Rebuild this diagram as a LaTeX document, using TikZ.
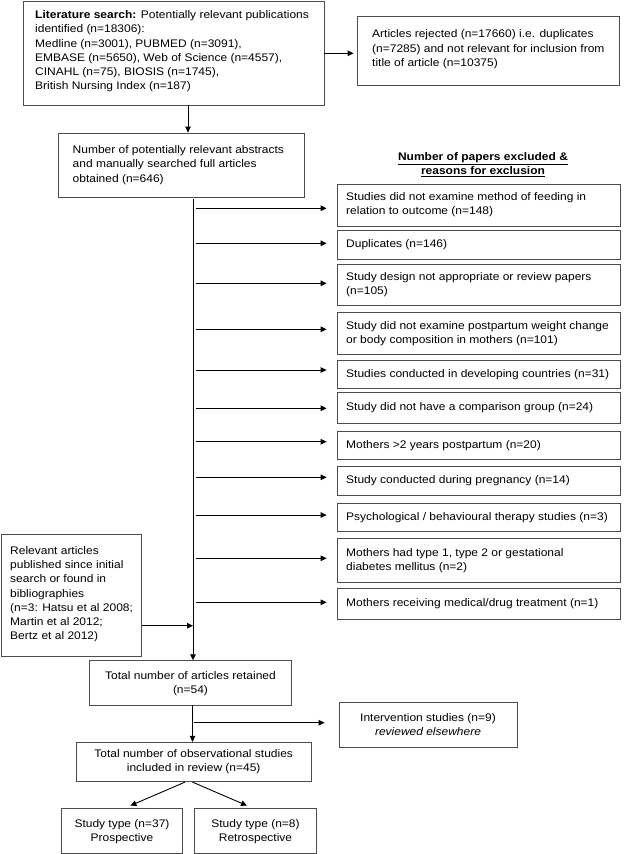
\documentclass[tikz,border=0pt]{standalone}
\usepackage{fontspec}
\setmainfont[FakeStretch=1.09]{Liberation Sans}
\usetikzlibrary{arrows.meta,calc}
\begin{document}
\begin{tikzpicture}[x=1pt,y=-1pt,
  box/.style={draw=black!70, line width=0.8pt, inner sep=0pt},
  txt/.style={font=\fontsize{11}{14.2}\selectfont, align=left, inner sep=0pt, anchor=west},
  ctxt/.style={font=\fontsize{11}{14.2}\selectfont, align=center, inner sep=0pt},
  arr/.style={line width=0.9pt, -{Triangle[length=6pt,width=5.5pt]}}]
\useasboundingbox (0,0) rectangle (625,854);
% top
\node[box, minimum width=301pt, minimum height=104pt] (lit) at (173.5,53) {};
\node[txt] (litt) at (35,51.3) {\textbf{Literature search:} Potentially relevant publications\\identified (n=18306):\\Medline (n=3001), PUBMED (n=3091),\\EMBASE (n=5650), Web of Science (n=4557),\\CINAHL (n=75), BIOSIS (n=1745),\\British Nursing Index (n=187)};
\node[box, minimum width=262pt, minimum height=69pt] (rej) at (488,50.5) {};
\node[txt] (rejt) at (372,49.3) {Articles rejected (n=17660) i.e. duplicates\\(n=7285) and not relevant for inclusion from\\title of article (n=10375)};
\draw[arr, shorten >=3pt] (lit.east |- 0,53.3) -- (rej.west |- 0,53.3);
\node[box, minimum width=246pt, minimum height=64pt] (abs) at (181,165) {};
\node[txt] (abst) at (72.5,165) {Number of potentially relevant abstracts\\and manually searched full articles\\obtained (n=646)};
\draw[arr] (lit.south -| 188,0) -- (abs.north -| 188,0);
\node[ctxt, font=\fontsize{11}{14.4}\selectfont\bfseries] (hdr) at (483,164.5) {\underline{Number of papers excluded \&}\\\underline{reasons for exclusion}};
% exclusion boxes
\foreach \n/\cy/\h/\ay/\t in {
  1/205/42/208.3/{Studies did not examine method of feeding in\\relation to outcome (n=148)},
  2/244.8/28.3/243.3/{Duplicates (n=146)},
  3/285/41.4/283.3/{Study design not appropriate or review papers\\(n=105)},
  4/333.3/42/329.3/{Study did not examine postpartum weight change\\or body composition in mothers (n=101)},
  5/374.2/28.3/370/{Studies conducted in developing countries (n=31)},
  6/408/30.6/408.3/{Study did not have a comparison group (n=24)},
  7/445.2/28.3/441.7/{Mothers >2 years postpartum (n=20)},
  8/480.8/28.3/477.3/{Study conducted during pregnancy (n=14)},
  9/517.5/28.4/515/{Psychological / behavioural therapy studies (n=3)},
  10/560.3/44/558.3/{Mothers had type 1, type 2 or gestational\\diabetes mellitus (n=2)},
  11/603.7/30.7/602.3/{Mothers receiving medical/drug treatment (n=1)}}{
  \node[box, minimum width=283pt, minimum height=\h pt] (e\n) at (478.5,\cy) {};
  \node[txt] (e\n t) at (346,\cy) {\t};
  \coordinate (s\n) at (195.5,\ay);
  \draw[arr, shorten >=10pt] (s\n) -- (s\n -| e\n.west);
}
% main stem
\node[box, minimum width=140pt, minimum height=122pt] (rel) at (71.5,595) {};
\node[txt] (relt) at (10,594.2) {Relevant articles\\published since initial\\search or found in\\bibliographies\\(n=3: Hatsu et al 2008;\\Martin et al 2012;\\Bertz et al 2012)};
\node[box, minimum width=201.6pt, minimum height=44.3pt] (tot) at (190.5,682.8) {};
\node[ctxt] (tott) at (190.5,683.7) {Total number of articles retained\\(n=54)};
\coordinate (vtop) at (193,199);
\draw[arr] (vtop) -- (vtop |- tot.north);
\draw[arr] (rel.east |- 0,625.7) -- (193,625.7);
\node[box, minimum width=178pt, minimum height=44.6pt] (int) at (428,725) {};
\node[ctxt] (intt) at (428,724.5) {Intervention studies (n=9)\\\textit{reviewed elsewhere}};
\node[box, minimum width=234.7pt, minimum height=39.4pt] (obs) at (193.7,762) {};
\node[ctxt] (obst) at (193.7,762) {Total number of observational studies\\included in review (n=45)};
\draw[arr] (tot.south -| 192.5,0) -- (obs.north -| 192.5,0);
\coordinate (br) at (194,722.7);
\draw[arr, shorten >=14pt] (br) -- (br -| int.west);
\node[box, minimum width=121.3pt, minimum height=45pt] (pro) at (122,830.8) {};
\node[ctxt] (prot) at (122,832) {Study type (n=37)\\Prospective};
\node[box, minimum width=121.3pt, minimum height=45pt] (ret) at (255.5,830.8) {};
\node[ctxt] (rett) at (255.5,832) {Study type (n=8)\\Retrospective};
\draw[arr] ([xshift=-8.7pt]obs.south) -- ([xshift=8.4pt,yshift=2.3pt]pro.north);
\draw[arr] ([xshift=-1.2pt]obs.south) -- ([xshift=-8.5pt,yshift=2.3pt]ret.north);
\end{tikzpicture}
\end{document}
